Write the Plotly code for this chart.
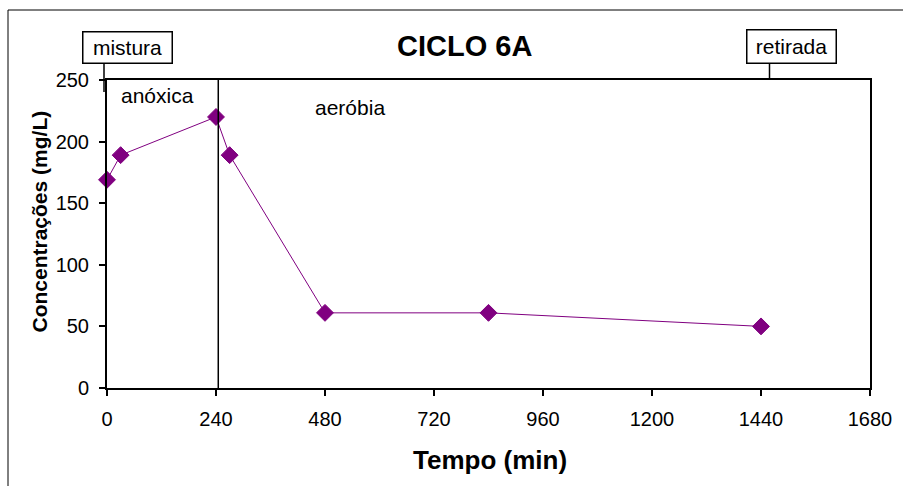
import plotly.graph_objects as go

# Ciclo 6A: concentração ao longo do tempo
tempo_min = [0, 30, 240, 270, 480, 840, 1440]
concentracao = [169, 189, 220, 189, 61, 61, 50]

x_ticks = [0, 240, 480, 720, 960, 1200, 1440, 1680]
y_ticks = [0, 50, 100, 150, 200, 250]

fase_limite = 245  # fim da fase anóxica

FONT = "Liberation Sans, Arial, sans-serif"
W, H = 903, 486
ML, MR, MT, MB = 107, 33, 80, 98
PW, PH = W - ML - MR, H - MT - MB


def px(xp):
    return (xp - ML) / PW


def py(yp):
    return (H - MB - yp) / PH


fig = go.Figure()
fig.add_trace(go.Scatter(
    x=tempo_min, y=concentracao, mode="lines+markers",
    line=dict(color="#800080", width=1),
    marker=dict(symbol="diamond", size=13, color="#800080",
                line=dict(color="#800080", width=1)),
    cliponaxis=False, showlegend=False,
))

axis_common = dict(
    showgrid=False, zeroline=False, showline=True, linecolor="black",
    linewidth=2, mirror=True, ticks="outside", ticklen=6, tickwidth=1.5,
    tickcolor="black", tickfont=dict(family=FONT, size=20, color="black"),
)

fig.update_layout(
    width=W, height=H,
    margin=dict(l=ML, r=MR, t=MT, b=MB),
    paper_bgcolor="white", plot_bgcolor="white",
    xaxis=dict(range=[0, 1680], tickvals=x_ticks, ticklabelstandoff=6,
               **axis_common),
    yaxis=dict(range=[0, 250], tickvals=y_ticks, ticklabelstandoff=6,
               **axis_common),
)

shapes = [
    # moldura externa do gráfico
    dict(type="rect", xref="paper", yref="paper",
         x0=px(8), x1=1.2, y0=-0.5, y1=py(10),
         line=dict(color="black", width=1)),
    # divisão entre as fases anóxica e aeróbia
    dict(type="line", xref="x", yref="y", x0=fase_limite, x1=fase_limite,
         y0=0, y1=250, line=dict(color="black", width=1.5)),
    # ligações das caixas de texto
    dict(type="line", xref="paper", yref="paper", x0=px(104), x1=px(104),
         y0=py(63), y1=py(92), line=dict(color="black", width=1.5)),
    dict(type="line", xref="paper", yref="paper", x0=px(769.5), x1=px(769.5),
         y0=py(63), y1=py(80), line=dict(color="black", width=1.5)),
]
fig.update_layout(shapes=shapes)


def label(text, xp, yp, size, bold=False, angle=0, **kw):
    t = f"<b>{text}</b>" if bold else text
    fig.add_annotation(
        text=t, xref="paper", yref="paper", x=px(xp), y=py(yp),
        xanchor="center", yanchor="middle", showarrow=False,
        textangle=angle, font=dict(family=FONT, size=size, color="black"), **kw)


label("CICLO 6A", 464.7, 46.5, 29, bold=True)
label("Tempo (min)", 490, 460, 26, bold=True)
label("Concentrações (mg/L)", 39, 221.5, 21, bold=True, angle=-90)
label("anóxica", 157, 95, 21)
label("aeróbia", 350, 107, 21)
label("mistura", 127.5, 47.5, 21, bordercolor="black", borderwidth=1.5,
      bgcolor="white", borderpad=2, width=84, height=26)
label("retirada", 791.5, 46.5, 21, bordercolor="black", borderwidth=1.5,
      bgcolor="white", borderpad=2, width=84, height=28)

fig.write_html("out.html")
